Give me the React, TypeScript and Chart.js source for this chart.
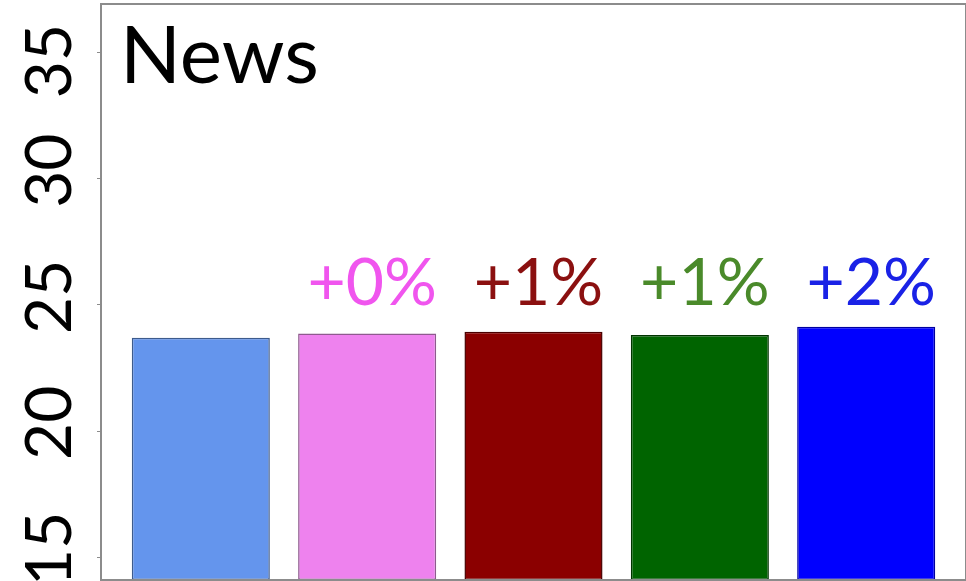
import React, { useEffect, useRef } from "react";
import { Chart, registerables } from "chart.js";

Chart.register(...registerables);

const categories = ["Baseline", "Violet", "DarkRed", "DarkGreen", "Blue"];
const values = [23.7, 23.87, 23.94, 23.81, 24.14];
const changeLabels = ["", "+0%", "+1%", "+1%", "+2%"];
const barColors = ["#6495ED", "#EE82EE", "#8B0000", "#006400", "#0000FF"];
const barBorders = ["#3d5b8c", "#8e5a8e", "#4a0000", "#003300", "#0000a0"];
const labelColors = ["#000000", "#f055ee", "#8b1010", "#4a8a2a", "#1a22e6"];
const yTicks = [15, 20, 25, 30, 35];
const yMin = 14.09;
const yMax = 36.94;
const labelLevel = 25;
const title = "News";

const FONT = "Lato, 'Open Sans', sans-serif";

const overlayPlugin = {
  id: "overlay",
  afterDatasetsDraw(chart: any) {
    const { ctx, chartArea } = chart;
    const meta = chart.getDatasetMeta(0);
    const yScale = chart.scales.y;
    const ly = yScale.getPixelForValue(labelLevel);
    ctx.save();
    ctx.font = `66px ${FONT}`;
    ctx.textAlign = "center";
    ctx.textBaseline = "alphabetic";
    meta.data.forEach((bar: any, i: number) => {
      const t = changeLabels[i];
      if (!t) return;
      ctx.fillStyle = labelColors[i];
      ctx.fillText(t, bar.x + 5, ly);
    });
    ctx.font = `80px ${FONT}`;
    ctx.textAlign = "left";
    ctx.fillStyle = "#000";
    ctx.fillText(title, chartArea.left + 19, chartArea.top + 79);
    ctx.strokeStyle = "#8c8c8c";
    ctx.lineWidth = 2;
    ctx.strokeRect(chartArea.left, chartArea.top, chartArea.right - chartArea.left, chartArea.bottom - chartArea.top);
    ctx.restore();
  },
};

export default function App() {
  const ref = useRef<HTMLCanvasElement | null>(null);
  useEffect(() => {
    if (!ref.current) return;
    const chart = new Chart(ref.current, {
      type: "bar",
      data: {
        labels: categories,
        datasets: [
          {
            data: values.map((v, i) => ({ x: i, y: v })) as any,
            backgroundColor: barColors,
            borderColor: barBorders,
            borderWidth: 1.5,
            borderSkipped: false,
            base: yMin,
            barPercentage: 0.83,
            categoryPercentage: 1,
          } as any,
        ],
      },
      options: {
        responsive: false,
        animation: false,
        events: [],
        layout: { padding: { top: 4, right: 0, bottom: 1, left: 0 } },
        plugins: { legend: { display: false }, tooltip: { enabled: false }, title: { display: false } },
        scales: {
          x: {
            type: "linear",
            min: -0.6,
            max: 4.6,
            offset: false,
            display: false,
            afterBuildTicks: (scale: any) => {
              scale.ticks = categories.map((_, i) => ({ value: i }));
            },
          },
          y: {
            type: "linear",
            min: yMin,
            max: yMax,
            afterBuildTicks: (scale: any) => {
              scale.ticks = yTicks.map((v) => ({ value: v }));
            },
            afterFit: (scale: any) => {
              scale.width = 101;
              scale.paddingTop = 0;
              scale.paddingBottom = 0;
            },
            border: { display: false },
            grid: {
              drawOnChartArea: false,
              drawTicks: true,
              tickLength: 4,
              tickColor: "#8c8c8c",
              tickWidth: 1,
            },
            ticks: {
              autoSkip: false,
              minRotation: 90,
              maxRotation: 90,
              crossAlign: "center",
              padding: 1,
              color: "#000",
              font: { family: FONT, size: 64 },
              callback: (v: any) =>
                v === yTicks[yTicks.length - 1] ? String(v) + " " : " " + String(v),
            },
          },
        },
      } as any,
      plugins: [overlayPlugin],
    });
    return () => chart.destroy();
  }, []);
  return (
    <div style={{ position: "absolute", left: 0, top: 0, width: 966, height: 581, background: "#fff" }}>
      <canvas ref={ref} width={966} height={581} style={{ display: "block" }} />
    </div>
  );
}
